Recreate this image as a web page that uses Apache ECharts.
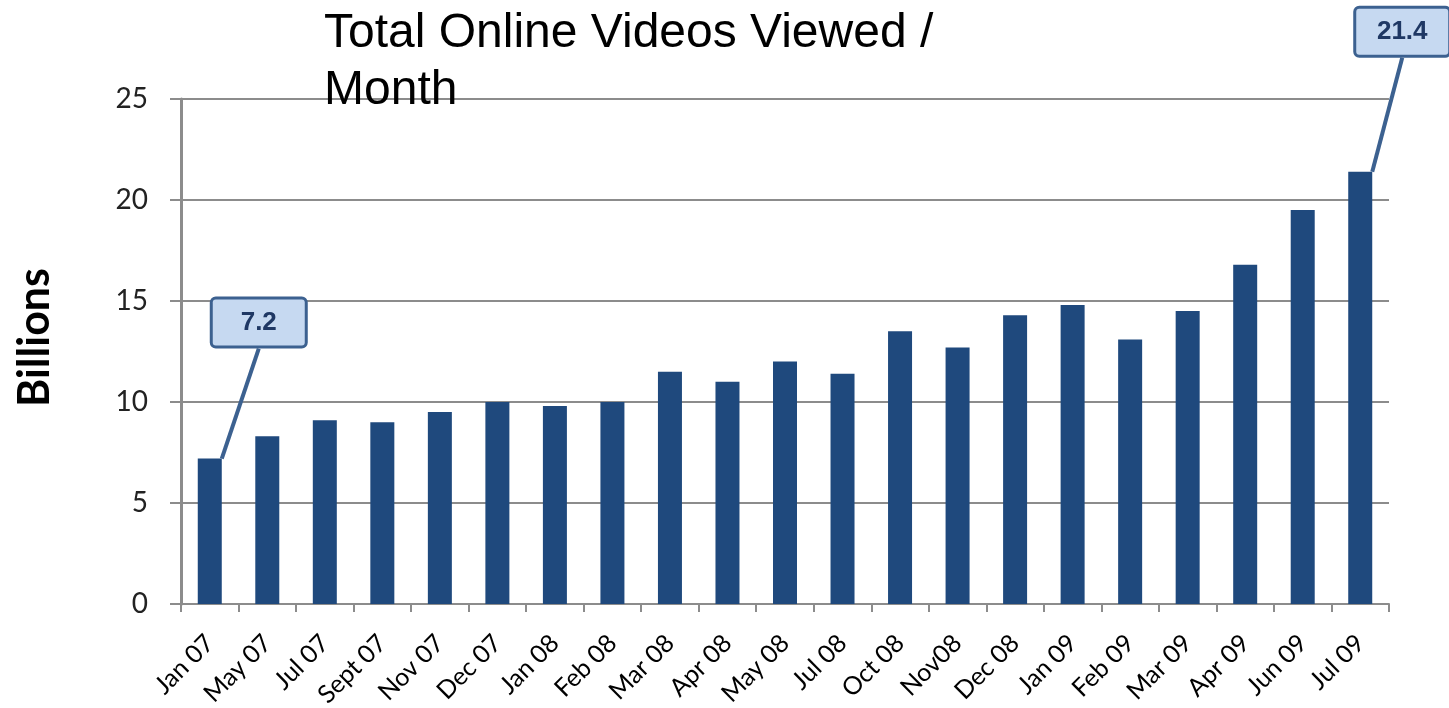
<!DOCTYPE html>
<html>
<head>
<meta charset="utf-8">
<script src="https://cdn.jsdelivr.net/npm/echarts@6/dist/echarts.min.js"></script>
<style>html,body{margin:0;padding:0;background:#fff;}#c{width:1449px;height:708px;}</style>
</head>
<body>
<div id="c"></div>
<script>
var categories = ["Jan 07","May 07","Jul 07","Sept 07","Nov 07","Dec 07","Jan 08","Feb 08","Mar 08","Apr 08","May 08","Jul 08","Oct 08","Nov08","Dec 08","Jan 09","Feb 09","Mar 09","Apr 09","Jun 09","Jul 09"];
var values = [7.2,8.3,9.1,9.0,9.5,10.0,9.8,10.0,11.5,11.0,12.0,11.4,13.5,12.7,14.3,14.8,13.1,14.5,16.8,19.5,21.4];
var calloutIndex = [0, 20];
var calloutOffset = {0: [49, -136], 20: [42, -140]};
var yTicks = [0,5,10,15,20,25];

var data = values.map(function(v, i){
  var item = {value: v};
  if (calloutIndex.indexOf(i) >= 0) {
    item.label = {
      show: true, position: 'top',
      formatter: function(p){ return p.value.toFixed(1); },
      fontFamily: 'Liberation Sans', fontWeight: 'bold', fontSize: 26, color: '#1f3864',
      backgroundColor: '#c6d9f1', borderColor: '#3c6190', borderWidth: 3,
      borderRadius: 3, width: 92, height: 46, align: 'center', verticalAlign: 'middle', lineHeight: 46, padding: 0
    };
    item.labelLine = {show: true, lineStyle: {color: '#3c6190', width: 4}};
  }
  return item;
});

var chart = echarts.init(document.getElementById('c'));
chart.setOption({
  animation: false,
  title: {
    text: 'Total Online Videos Viewed /\nMonth',
    left: 319, top: 0,
    textStyle: {fontFamily: 'Liberation Sans', fontWeight: 'normal', fontSize: 48, lineHeight: 57, color: '#000'}
  },
  grid: {left: 181, right: 60, top: 99, bottom: 104, containLabel: false, outerBoundsMode: 'none'},
  xAxis: {
    type: 'category', data: categories,
    axisLine: {lineStyle: {color: '#8c8c8c', width: 2}},
    axisTick: {show: true, length: 8, lineStyle: {color: '#8c8c8c', width: 2}},
    axisLabel: {rotate: 45, margin: 35, fontFamily: 'Lato', fontSize: 25, color: '#000', interval: 0}
  },
  yAxis: {
    type: 'value', min: 0, max: 25, interval: 5,
    name: 'Billions', nameLocation: 'middle', nameRotate: 90, nameGap: 124,
    nameTextStyle: {fontFamily: 'Lato', fontWeight: 'bold', fontSize: 43, color: '#000', padding: [0, 0, 0, 28]},
    axisLine: {show: true, lineStyle: {color: '#8c8c8c', width: 3}},
    axisTick: {show: true, length: 11, lineStyle: {color: '#8c8c8c', width: 2}},
    axisLabel: {margin: 33, fontFamily: 'Lato', fontSize: 28, color: '#222',
      formatter: function(v){ return yTicks.indexOf(v) >= 0 ? String(v) : ''; }},
    splitLine: {show: true, lineStyle: {color: '#8c8c8c', width: 2}}
  },
  series: [{
    type: 'bar', data: data, barWidth: 24,
    itemStyle: {color: '#1f497d'},
    labelLine: {show: true, lineStyle: {color: '#3c6190', width: 4}},
    labelLayout: function(params){
      var off = calloutOffset[params.dataIndex];
      if (!off) return {};
      return {
        x: params.rect.x + params.rect.width / 2 + off[0],
        y: params.rect.y + off[1],
        align: 'center', verticalAlign: 'middle'
      };
    }
  }]
});
</script>
</body>
</html>
